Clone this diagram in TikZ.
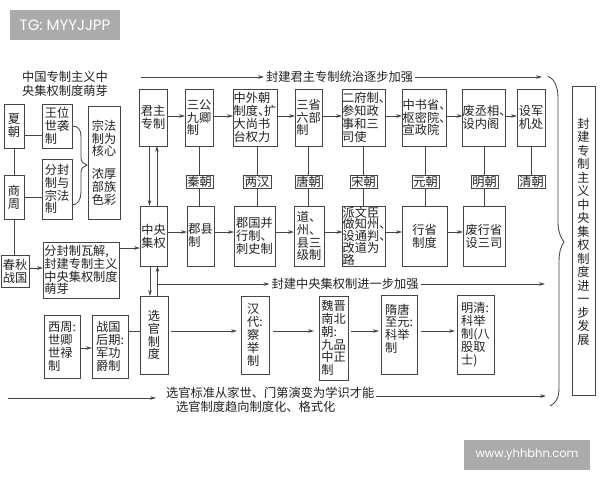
\documentclass[tikz,border=0pt]{standalone}
\usepackage{fontspec}
\setmainfont{Noto Sans CJK SC}
\newfontfamily\wmfont{Poppins}
\usetikzlibrary{arrows.meta}
\definecolor{ink}{HTML}{222222}
\definecolor{wire}{HTML}{454545}
\definecolor{wm}{HTML}{ABABAB}
\newcommand{\dn}{\makebox[0.5em][l]{、}}
\newcommand{\bx}[7][]{\node[boxn,#1,minimum width={(#5-#3)*1pt},minimum height={(#6-#4)*1pt}] (#2) at ({(#3+#5)/2},{(#4+#6)/2}) {#7};}
\tikzset{
  boxn/.style={draw=wire,line width=0.85pt,inner sep=0pt,outer sep=0pt,align=left,text=ink,font=\fontsize{12.2}{12.8}\selectfont},
  tight/.style={font=\fontsize{12.2}{11.7}\selectfont},
  tall/.style={font=\fontsize{12.2}{13.5}\selectfont},
  lab/.style={inner sep=2pt,outer sep=0pt,align=center,text=ink,font=\fontsize{12.25}{13.5}\selectfont},
  wire/.style={draw=wire,line width=0.85pt},
  arr/.style={wire,-{Stealth[length=6pt,width=3.6pt]}},
  wmbox/.style={fill=wm,text=white,inner sep=0pt}
}
\begin{document}
\begin{tikzpicture}[x=1pt,y=-1pt]
\useasboundingbox (0,0) rectangle (600,480);
\fill[white] (0,0) rectangle (600,480);
% watermarks
\node[wmbox,minimum width=110pt,minimum height=30pt,font=\wmfont\fontsize{15}{17}\selectfont] (tg) at (65,25) {TG: MYYJJPP};
\node[wmbox,minimum width=126pt,minimum height=30pt,font=\wmfont\fontsize{11.5}{13}\selectfont] (www) at (527,455) {www.yhhbhn.com};
% row guides
\coordinate (rowA) at (0,116);
\coordinate (rowB) at (0,232);
\coordinate (rowC) at (0,331);
\coordinate (rowD) at (0,348);
\coordinate (rowE) at (0,248);
\coordinate (rowF) at (0,284);
\coordinate (rowG) at (0,135);
% left column
\node[lab] (title) at (65,84) {中国专制主义中\\央集权制度萌芽};
\bx{xia}{4}{104}{24}{148}{夏\\朝}
\bx{wang}{42}{104}{72}{148}{王位\\世袭\\制}
\bx{zong}{88}{106}{120}{219}{宗法\\制为\\核心\\[10pt]浓厚\\部族\\色彩}
\bx{shang}{4}{175}{24}{219}{商\\周}
\bx{fen}{42}{159}{72}{219}{分封\\制与\\宗法\\制}
\bx{chun}{1}{255}{29}{287}{春秋\\战国}
\bx{wa}{43}{242}{119}{298}{分封制瓦解,\\封建专制主义\\中央集权制度\\萌芽}
% centre column
\bx{jun}{139}{89}{167}{146}{君主\\专制}
\bx{zhong}{140}{206}{167}{266}{中央\\集权}
\bx{xuan}{140}{296}{168}{374}{选\\官\\制\\度}
% top row
\bx{sg}{185}{89}{213}{146}{三公\\九卿\\制}
\bx{zw}{233}{89}{277}{146}{中外朝\\制度\dn 扩\\大尚书\\台权力}
\bx{ss}{295}{89}{322}{146}{三省\\六部\\制}
\bx{ef}{342}{89}{385}{146}{二府制\dn\\参知政\\事和三\\司使}
\bx{zs}{402}{89}{446}{146}{中书省\dn\\枢密院\dn\\宣政院}
\bx{fc}{463}{89}{505}{146}{废丞相\dn\\设内阁}
\bx{sj}{517}{89}{545}{146}{设军\\机处}
% dynasties
\bx{qin}{186}{175}{213}{188}{秦朝}
\bx{han}{243}{175}{271}{188}{两汉}
\bx{tang}{295}{175}{322}{188}{唐朝}
\bx{song}{350}{175}{377}{188}{宋朝}
\bx{yuan}{412}{175}{439}{188}{元朝}
\bx{ming}{471}{175}{498}{188}{明朝}
\bx{qing}{518}{175}{545}{188}{清朝}
% lower row
\bx{jx}{187}{206}{214}{266}{郡县\\制}
\bx{jg}{234}{206}{275}{266}{郡国并\\行制\dn\\刺史制}
\bx{dz}{294}{206}{324}{266}{道\dn\\州\dn\\县三\\级制}
\bx[tight]{pw}{343}{206}{385}{266}{派文臣\\做知州\dn\\设通判\dn\\改道为\\路}
\bx{xs}{402}{206}{447}{266}{行省\\制度}
\bx{fx}{463}{206}{505}{266}{废行省\\设三司}
% selection row
\bx{xz}{44}{315}{80}{378}{西周:\\世卿\\世禄\\制}
\bx{zg}{92}{315}{128}{378}{战国\\后期:\\军功\\爵制}
\bx{hd}{241}{296}{269}{374}{汉\\代:\\察\\举\\制}
\bx{wj}{319}{296}{348}{380}{魏晋\\南北\\朝:\\九品\\中正\\制}
\bx{sui}{381}{295}{417}{374}{隋唐\\至元:\\科举\\制\\\ }
\bx{mq}{457}{295}{494}{374}{明清:\\科举\\制(八\\股取\\士)}
% right column
\bx[tall]{big}{572}{86}{595}{395}{封\\建\\专\\制\\主\\义\\中\\央\\集\\权\\制\\度\\进\\一\\步\\发\\展\\[5.5pt]}
% free labels
\node[lab] (topt) at (339.5,77) {封建君主专制统治逐步加强};
\node[lab] (midt) at (345,284) {封建中央集权制进一步加强};
\node[lab,align=left,anchor=west] (bota) at (164,393) {选官标准从家世、门第演变为学识才能};
\node[lab,anchor=west] (botb) at (174,407) {选官制度趋向制度化、格式化};
% free ends
\coordinate (topS) at (141,77);
\coordinate (topE) at (542,77);
\coordinate (midE) at (545,284);
\coordinate (botS) at (8,398);
\coordinate (botM) at (156,398);
\coordinate (botE) at (546,396);
\coordinate (bT) at (548,76);
\coordinate (bB) at (550,406);
\coordinate (bTip) at (564,242);
\coordinate (br0) at (72,126);
\coordinate (br1) at (72,205);
\coordinate (brTip) at (87,165);
% left links
\draw[wire] (xia.south) -- (shang.north);
\draw[wire] (shang.south) -- (shang.south |- chun.north);
\draw[wire] (xia.east |- rowG) -- (wang.west |- rowG);
\draw[wire] (shang.east) -- (shang.east -| fen.west);
\draw[arr] (chun.east |- 0,268) -- (wa.west |- 0,268);
\draw[arr] (wa.east |- rowE) -- (zhong.west |- rowE);
\draw[wire] (br0) .. controls (78,126) and (81,129) .. (81,137) -- (81,158) .. controls (81,162) and (84,164) .. (brTip) .. controls (84,166) and (81,168) .. (81,172) -- (81,192) .. controls (81,199) and (78,205) .. (br1);
% top arrows
\foreach \a/\b in {jun/sg,sg/zw,zw/ss,ss/ef,ef/zs,zs/fc,fc/sj}
  \draw[arr] (\a.east |- rowA) -- (\b.west |- rowA);
% lower arrows
\foreach \a/\b in {zhong/jx,jx/jg,jg/dz,dz/pw,pw/xs,xs/fx}
  \draw[arr] (\a.east |- rowB) -- (\b.west |- rowB);
% verticals through the dynasties
\foreach \d/\u/\l in {qin/sg/jx,han/zw/jg,tang/ss/dz,song/ef/pw,yuan/zs/xs,ming/fc/fx}{
  \draw[wire] (\d.north) -- (\d.north |- \u.south);
  \draw[wire] (\d.south) -- (\d.south |- \l.north);
}
\draw[wire] (qing.north) -- (qing.north |- sj.south);
% centre double links
\draw[arr] ([xshift=-3.5pt]jun.south) -- ([xshift=-3.5pt]jun.south |- zhong.north);
\draw[arr] ([xshift=3.5pt]zhong.north) -- ([xshift=3.5pt]zhong.north |- jun.south);
\draw[arr] ([xshift=-3.5pt]zhong.south) -- ([xshift=-3.5pt]zhong.south |- xuan.north);
\draw[arr] ([xshift=3.5pt]xuan.north) -- ([xshift=3.5pt]xuan.north |- zhong.south);
% trend arrows
\draw[arr] (topS) -- (topt.west);
\draw[arr] (topt.east) -- (topE);
\draw[arr] ([xshift=3.5pt]zhong.south |- rowF) -- (midt.west);
\draw[arr] (midt.east) -- (midE);
\draw[arr] (botS) -- (botM);
\draw[arr] (bota.east |- botE) -- (botE);
% selection row
\draw[arr] (xz.east |- rowD) -- (zg.west |- rowD);
\draw[wire] (zg.east |- rowC) -- (xuan.west |- rowC);
\draw[arr,shorten <=3pt,shorten >=4pt] (xuan.east |- rowC) -- (hd.west |- rowC);
\draw[arr,shorten <=4pt,shorten >=5pt] (hd.east |- rowC) -- (wj.west |- rowC);
\draw[arr,shorten <=3pt,shorten >=2pt] (wj.east |- rowC) -- (sui.west |- rowC);
\draw[arr,shorten <=4pt,shorten >=2pt] (sui.east |- rowC) -- (mq.west |- rowC);
% large bracket
\draw[wire] (bT) .. controls (554,79) and (558,86) .. (558,98) -- (558,222) .. controls (558,232) and (561,238) .. (bTip) .. controls (561,246) and (559,252) .. (559,262) -- (559,388) .. controls (559,398) and (556,403) .. (bB);
\end{tikzpicture}
\end{document}
